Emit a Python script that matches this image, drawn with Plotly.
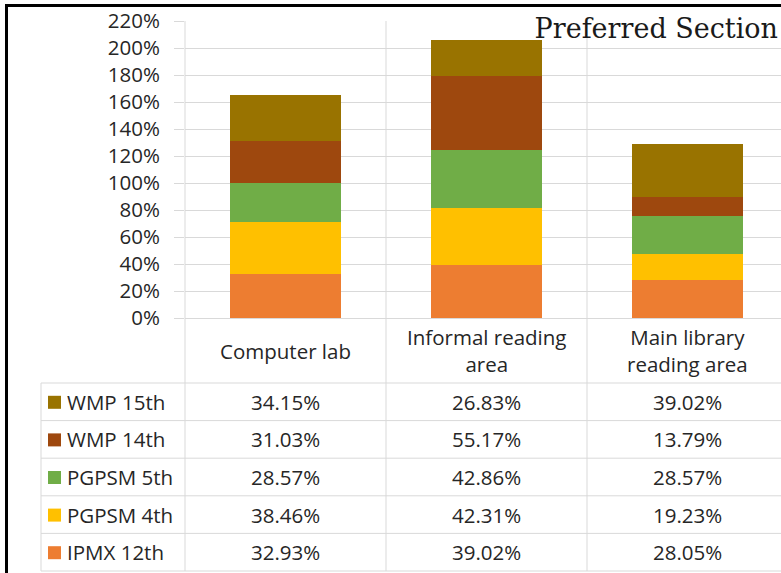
import plotly.graph_objects as go

categories = ["Computer lab", "Informal reading area", "Main library reading area"]
category_labels = ["Computer lab", "Informal reading<br>area", "Main library<br>reading area"]

series_names = ["IPMX 12th", "PGPSM 4th", "PGPSM 5th", "WMP 14th", "WMP 15th"]
ipmx_12th = [32.93, 39.02, 28.05]
pgpsm_4th = [38.46, 42.31, 19.23]
pgpsm_5th = [28.57, 42.86, 28.57]
wmp_14th = [31.03, 55.17, 13.79]
wmp_15th = [34.15, 26.83, 39.02]
series_values = [ipmx_12th, pgpsm_4th, pgpsm_5th, wmp_14th, wmp_15th]
series_colors = ["#ED7D31", "#FFC000", "#70AD47", "#9E480E", "#997300"]

W, H = 781, 573
PL, PR, PT, PB = 185, 781, 21, 318  # plot area in pixels
GRID = "#d9d9d9"
FONT = "Open Sans"
FS = 20.5
TXT = "#262626"


def px_x(px):
    return (px - PL) / (PR - PL)


def px_y(py):
    return (PB - py) / (PB - PT)


fig = go.Figure()
for name, vals, col in zip(series_names, series_values, series_colors):
    fig.add_trace(go.Bar(name=name, x=categories, y=vals, marker_color=col,
                         marker_line_width=0, width=0.557))

cat_w = (PR - PL) / 201.0

shapes = []
annotations = []

# vertical category boundaries
shapes.append(dict(type="line", xref="paper", yref="paper", x0=0, x1=0,
                   y0=px_y(571), y1=1, line=dict(color=GRID, width=1)))
for b in range(len(categories) - 1):
    shapes.append(dict(type="line", xref="x", yref="paper", x0=b + 0.5, x1=b + 0.5,
                       y0=px_y(571), y1=1, line=dict(color=GRID, width=1)))

# table rows
row_top = 383
row_h = 37.6
n_rows = len(series_names)
for r in range(n_rows + 1):
    yy = px_y(row_top + r * row_h)
    shapes.append(dict(type="line", xref="paper", yref="paper", x0=px_x(41), x1=1,
                       y0=yy, y1=yy, line=dict(color=GRID, width=1)))
shapes.append(dict(type="line", xref="paper", yref="paper", x0=px_x(41), x1=px_x(41),
                   y0=px_y(row_top + n_rows * row_h), y1=px_y(row_top),
                   line=dict(color=GRID, width=1)))

# black frame (top and left)
shapes.append(dict(type="line", xref="paper", yref="paper", x0=px_x(5), x1=px_x(W + 5),
                   y0=px_y(5.5), y1=px_y(5.5), line=dict(color="black", width=3)))
shapes.append(dict(type="line", xref="paper", yref="paper", x0=px_x(6.5), x1=px_x(6.5),
                   y0=px_y(H + 5), y1=px_y(4), line=dict(color="black", width=3)))

# category header labels
for i, lab in enumerate(category_labels):
    annotations.append(dict(xref="x", yref="paper", x=i, y=px_y(350.5), text=lab,
                            showarrow=False, xanchor="center", yanchor="middle",
                            font=dict(family=FONT, size=FS, color=TXT)))

# table rows: top row is last series
for r in range(n_rows):
    s = n_rows - 1 - r
    yc = row_top + r * row_h + row_h / 2
    shapes.append(dict(type="rect", xref="paper", yref="paper",
                       x0=px_x(48), x1=px_x(61), y0=px_y(yc - 6), y1=px_y(yc + 7),
                       fillcolor=series_colors[s], line=dict(width=0)))
    annotations.append(dict(xref="paper", yref="paper", x=px_x(65), y=px_y(yc),
                            text=series_names[s], showarrow=False, xanchor="left",
                            yanchor="middle", font=dict(family=FONT, size=FS, color=TXT)))
    for i in range(len(categories)):
        annotations.append(dict(xref="x", yref="paper", x=i, y=px_y(yc),
                                text=f"{series_values[s][i]:.2f}%", showarrow=False,
                                xanchor="center", yanchor="middle",
                                font=dict(family=FONT, size=FS, color=TXT)))

fig.update_layout(
    width=W, height=H,
    margin=dict(l=PL, r=W - PR, t=PT, b=H - PB),
    barmode="stack",
    showlegend=False,
    plot_bgcolor="white",
    paper_bgcolor="white",
    title=dict(text="Preferred Section", x=778 / W, xanchor="right", xref="container",
               y=1 - 29 / H, yanchor="middle", yref="container",
               font=dict(family="DejaVu Serif", size=27, color="#1a1a1a")),
    shapes=shapes,
    annotations=annotations,
    xaxis=dict(range=[-0.5, -0.5 + cat_w], showticklabels=False, showgrid=False,
               zeroline=False, showline=False, ticks=""),
    yaxis=dict(range=[0, 220], dtick=20, ticksuffix="%", showgrid=True, gridcolor=GRID,
               gridwidth=1, zeroline=True, zerolinecolor=GRID, zerolinewidth=1,
               showline=False, ticks="outside", ticklen=10, tickcolor=GRID,
               ticklabelstandoff=10,
               tickfont=dict(family=FONT, size=FS, color=TXT)),
)

fig.write_html("out.html", config={"displayModeBar": False})

with open("out.html", "r", encoding="utf-8") as f:
    html = f.read()
html = html.replace("<head>", "<head><style>html,body{margin:0;padding:0;overflow:hidden;}</style>", 1)
with open("out.html", "w", encoding="utf-8") as f:
    f.write(html)
